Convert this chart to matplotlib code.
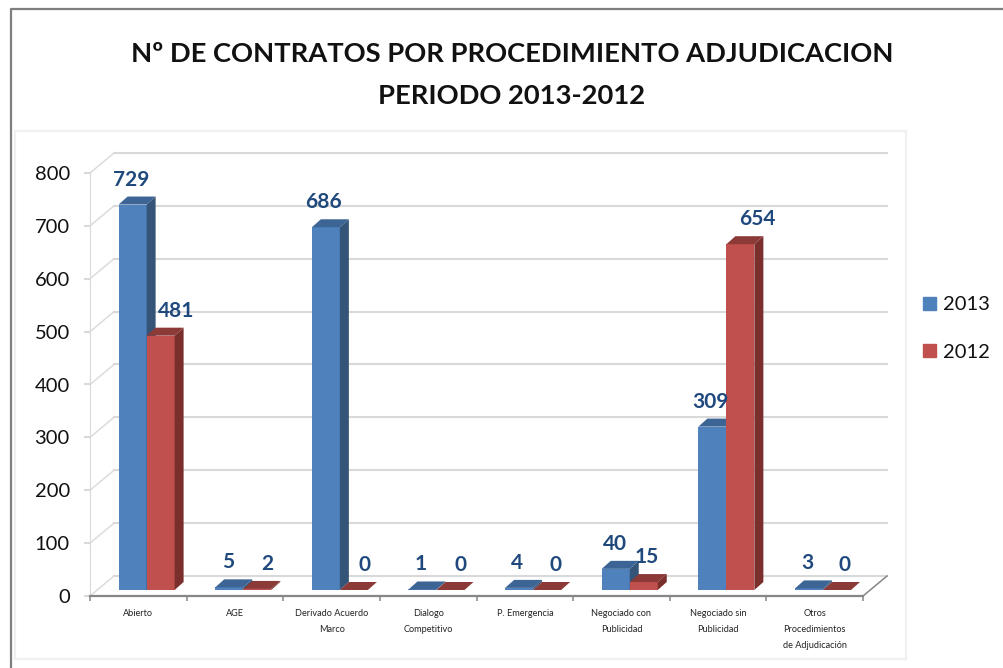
import numpy as np
import matplotlib
matplotlib.use('Agg')
import matplotlib.pyplot as plt
from matplotlib.lines import Line2D
from matplotlib.patches import Rectangle, Patch

categories = ['Abierto', 'AGE', 'Derivado Acuerdo\nMarco', 'Dialogo\nCompetitivo', 'P. Emergencia',
              'Negociado con\nPublicidad', 'Negociado sin\nPublicidad',
              'Otros\nProcedimientos\nde Adjudicación']
v2013 = [729, 5, 686, 1, 4, 40, 309, 3]
v2012 = [481, 2, 0, 0, 0, 15, 654, 0]
y_ticks = [0, 100, 200, 300, 400, 500, 600, 700, 800]

# hand placed label nudges in the original, in pixels
dx2013 = [-1, -1, -2, -2, -2, -1, -2, -2]
dx2012 = [16, 10, 11, 10, 8, 3, 17, 8]

W, H = 1003, 668
plt.rcParams['font.family'] = ['Lato', 'DejaVu Sans']

fig = plt.figure(figsize=((W + 0.01) / 100, (H + 0.01) / 100), dpi=100)
ax = fig.add_axes([90 / W, (H - 596) / H, 773 / W, 423 / H])
ax.set_xlim(-0.5, 7.5)
ax.set_ylim(0, 800)

# one pixel in data units
px = 8 / 773
py = 800 / 423


def fig_rect(x0, y0, x1, y1, **kw):
    fig.add_artist(Rectangle((x0 / W, 1 - y1 / H), (x1 - x0) / W, (y1 - y0) / H,
                             transform=fig.transFigure, **kw))


# frames
fig.add_artist(Line2D([10.5 / W, 10.5 / W, 1.0], [0, 1 - 9.5 / H, 1 - 9.5 / H],
                      color='#7f7f7f', lw=1.6, transform=fig.transFigure))
fig_rect(15, 131, 906, 659, fill=False, ec='#f0f0f0', lw=1.6)

# walls of the 3d box
wall_x = 24 * px
wall_y = 20 * py
for t in y_ticks:
    ax.plot([-0.5, -0.5 + wall_x], [t, t + wall_y], color='#dcdcdc', lw=1.1, clip_on=False, zorder=1)
    ax.plot([-0.5 + wall_x, 7.5 + wall_x], [t + wall_y, t + wall_y], color='#d9d9d9', lw=1.5,
            clip_on=False, zorder=1)
ax.plot([7.5, 7.5 + wall_x], [0, wall_y], color='#868686', lw=1.1, clip_on=False, zorder=1)

# bars
bw = 28 * px
base = 6 * py
dep_x = 9 * px
dep_y = 8 * py
shift = 8.3 * px


def draw_bars(xs, vals, face, side, top):
    ax.bar(xs, vals, width=bw, bottom=base, align='edge', color=face, zorder=3, clip_on=False)
    for x, v in zip(xs, vals):
        y0, y1 = base, base + v
        ax.fill([x + bw, x + bw + dep_x, x + bw + dep_x, x + bw],
                [y0, y0 + dep_y, y1 + dep_y, y1], color=side, lw=0, zorder=3, clip_on=False)
        ax.fill([x, x + dep_x, x + bw + dep_x, x + bw],
                [y1, y1 + dep_y, y1 + dep_y, y1], color=top, lw=0, zorder=3, clip_on=False)


pos = np.arange(len(categories))
draw_bars(pos + shift - bw, v2013, '#4f81bd', '#345478', '#3c6494')
draw_bars(pos + shift, v2012, '#c0504d', '#7a2f2d', '#8c3a38')

# value labels
for i in pos:
    for v, x, dx in ((v2013[i], pos[i] + shift - bw / 2, dx2013[i]),
                     (v2012[i], pos[i] + shift + bw / 2, dx2012[i])):
        ax.text(x + dx * px, base + v + 25 * py, str(v), ha='center', va='center',
                fontsize=15, fontweight='bold', color='#1f497d', zorder=5, clip_on=False)

# axes
for s in ('top', 'right'):
    ax.spines[s].set_visible(False)
ax.patch.set_visible(False)
ax.spines['left'].set_color('#d9d9d9')
ax.spines['bottom'].set_color('#868686')
ax.spines['bottom'].set_linewidth(1.6)
ax.set_yticks(y_ticks)
ax.tick_params(axis='y', length=4.5, width=1.5, color='#d9d9d9', labelsize=14.5, pad=10, labelcolor='#111111')
ax.set_xticks(np.arange(-0.5, 8, 1))
ax.set_xticklabels([])
ax.tick_params(axis='x', which='major', length=3.5, width=1.1, color='#868686')
ax.set_xticks(pos, minor=True)
ax.set_xticklabels(categories, minor=True, fontsize=6.6, color='#222222', linespacing=2.0)
ax.tick_params(axis='x', which='minor', length=0, pad=9)

# legend
handles = [Patch(color='#4f81bd', label='2013'), Patch(color='#c0504d', label='2012')]
fig.legend(handles=handles, loc='center left', bbox_to_anchor=(905 / W, 1 - 328.5 / H), frameon=False,
           fontsize=14.5, handlelength=0.65, handleheight=0.65, handletextpad=0.35, labelspacing=1.5,
           labelcolor='#111111')

# title
fig.text(512 / W, 1 - 54 / H, 'Nº DE CONTRATOS POR PROCEDIMIENTO ADJUDICACION', ha='center', va='center',
         fontsize=19.7, fontweight='bold', color='#111111')
fig.text(512 / W, 1 - 96 / H, 'PERIODO 2013-2012', ha='center', va='center',
         fontsize=19.7, fontweight='bold', color='#111111')

fig.savefig('out.png', dpi=100)
